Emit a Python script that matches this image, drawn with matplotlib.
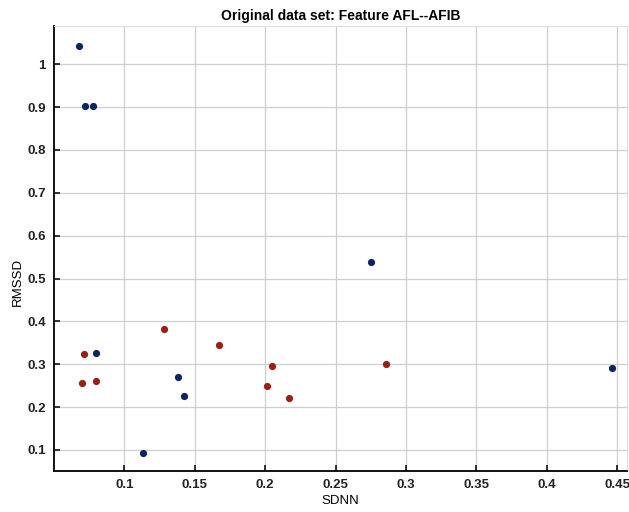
import matplotlib
matplotlib.use("Agg")
import matplotlib.pyplot as plt

# AFL class (dark blue)
afl_sdnn = [0.068, 0.072, 0.078, 0.080, 0.138, 0.142, 0.113, 0.275, 0.446]
afl_rmssd = [1.042, 0.902, 0.902, 0.327, 0.270, 0.226, 0.094, 0.538, 0.291]
# AFIB class (dark red)
afib_sdnn = [0.071, 0.070, 0.080, 0.128, 0.167, 0.205, 0.201, 0.217, 0.286]
afib_rmssd = [0.323, 0.256, 0.262, 0.382, 0.344, 0.296, 0.250, 0.221, 0.301]

xticks = [0.1, 0.15, 0.2, 0.25, 0.3, 0.35, 0.4, 0.45]
xtick_labels = ["0.1", "0.15", "0.2", "0.25", "0.3", "0.35", "0.4", "0.45"]
yticks = [0.1, 0.2, 0.3, 0.4, 0.5, 0.6, 0.7, 0.8, 0.9, 1.0]
ytick_labels = ["0.1", "0.2", "0.3", "0.4", "0.5", "0.6", "0.7", "0.8", "0.9", "1"]

plt.rcParams['font.family'] = ['Liberation Sans', 'DejaVu Sans']

fig = plt.figure(figsize=(6.29, 5.12), dpi=100)
ax = fig.add_axes([54/629, 41/512, 573/629, 445/512])

ax.scatter(afl_sdnn, afl_rmssd, s=27, color='#0c2460', zorder=3, linewidths=0)
ax.scatter(afib_sdnn, afib_rmssd, s=27, color='#9a1f14', zorder=3, linewidths=0)

ax.set_xlim(0.050, 0.457)
ax.set_ylim(0.051, 1.089)
ax.set_xticks(xticks)
ax.set_xticklabels(xtick_labels)
ax.set_yticks(yticks)
ax.set_yticklabels(ytick_labels)

ax.grid(True, color='#cfcfcf', linewidth=0.9)
ax.set_axisbelow(True)
ax.tick_params(direction='in', length=4, width=1.2, labelsize=9.5, colors='#111111', pad=6)
for lab in ax.get_xticklabels() + ax.get_yticklabels():
    lab.set_fontweight('bold')
    lab.set_color('#222222')

ax.spines['left'].set_linewidth(1.3)
ax.spines['bottom'].set_linewidth(1.3)
ax.spines['top'].set_color('#dddddd')
ax.spines['right'].set_color('#dddddd')

ax.set_title("Original data set: Feature AFL--AFIB", fontsize=10, fontweight='bold', pad=4)
ax.set_xlabel("SDNN", fontsize=9.5)
ax.set_ylabel("RMSSD", fontsize=9.5)
ax.xaxis.set_label_coords(0.5, -0.055)
ax.yaxis.set_label_coords(-0.063, 0.424)
ax.yaxis.label.set_va('center')

fig.savefig("out.png", dpi=100)
